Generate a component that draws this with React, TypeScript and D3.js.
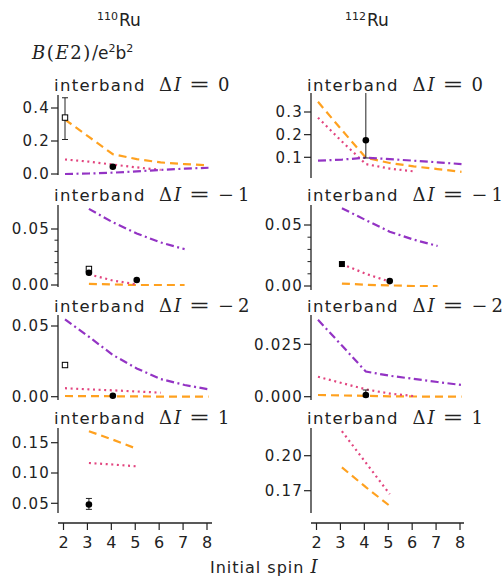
import React from 'react';
import * as d3 from 'd3';

// spins used by the model curves
const spin2to8 = [2, 3, 4, 5, 6, 7, 8];
const spin2to6 = [2, 3, 4, 5, 6];
const spin3to7 = [3, 4, 5, 6, 7];
const spin3to5 = [3, 4, 5];
const xTicks = [2, 3, 4, 5, 6, 7, 8];

// 110Ru
const ru110_d0_dashed = [0.33, 0.225, 0.12, 0.09, 0.07, 0.06, 0.053];
const ru110_d0_dotted = [0.088, 0.075, 0.057, 0.04, 0.025];
const ru110_d0_dashdot = [0.0, 0.003, 0.008, 0.016, 0.025, 0.032, 0.038];
const ru110_dm1_dashed = [0.001, 0.0005, 0.0, 0.0, 0.0];
const ru110_dm1_dotted = [0.0095, 0.004, 0.0005];
const ru110_dm1_dashdot = [0.068, 0.056, 0.046, 0.038, 0.032];
const ru110_dm2_dashed = [0.0005, 0.0004, 0.0003, 0.0002, 0.0001, 0.0, 0.0];
const ru110_dm2_dotted = [0.006, 0.0052, 0.0045, 0.0037, 0.0028];
const ru110_dm2_dashdot = [0.0547, 0.0424, 0.0295, 0.02, 0.0125, 0.0083, 0.0052];
const ru110_d1_dashed = [0.169, 0.155, 0.14];
const ru110_d1_dotted = [0.1165, 0.114, 0.111];

// 112Ru
const ru112_d0_dashed = [0.345, 0.22, 0.098, 0.075, 0.06, 0.048, 0.036];
const ru112_d0_dotted = [0.275, 0.17, 0.07, 0.05, 0.038];
const ru112_d0_dashdot = [0.085, 0.09, 0.098, 0.092, 0.085, 0.078, 0.07];
const ru112_dm1_dashed = [0.002, 0.001, 0.0005, 0.0, 0.0];
const ru112_dm1_dotted = [0.018, 0.01, 0.0035];
const ru112_dm1_dashdot = [0.0637, 0.054, 0.0445, 0.038, 0.0328];
const ru112_dm2_dashed = [0.0008, 0.0006, 0.0004, 0.0002, 0.0001, 0.0, 0.0];
const ru112_dm2_dotted = [0.0095, 0.0065, 0.0035, 0.0015, 0.0003];
const ru112_dm2_dashdot = [0.0367, 0.0244, 0.012, 0.01, 0.0085, 0.007, 0.0056];
const ru112_d1_dashed = [0.19, 0.173, 0.157];
const ru112_d1_dotted = [0.221, 0.194, 0.167];

// experimental points: spin, value, error low/high, marker
type Exp = { I: number; v: number; lo?: number; hi?: number; m: 'open' | 'square' | 'circle' };
const ru110_d0_exp: Exp[] = [{ I: 2, v: 0.342, lo: 0.209, hi: 0.462, m: 'open' }, { I: 4, v: 0.044, m: 'circle' }];
const ru110_dm1_exp: Exp[] = [{ I: 3, v: 0.0143, m: 'open' }, { I: 3, v: 0.011, m: 'circle' }, { I: 5, v: 0.0045, m: 'circle' }];
const ru110_dm2_exp: Exp[] = [{ I: 2, v: 0.0224, m: 'open' }, { I: 4, v: 0.0007, m: 'circle' }];
const ru110_d1_exp: Exp[] = [{ I: 3, v: 0.048, lo: 0.04, hi: 0.058, m: 'circle' }];
const ru112_d0_exp: Exp[] = [{ I: 4, v: 0.175, lo: 0.097, hi: 0.45, m: 'circle' }];
const ru112_dm1_exp: Exp[] = [{ I: 3, v: 0.018, m: 'square' }, { I: 5, v: 0.004, m: 'circle' }];
const ru112_dm2_exp: Exp[] = [{ I: 4, v: 0.0008, lo: 0.0, hi: 0.0032, m: 'circle' }];
const ru112_d1_exp: Exp[] = [];

const yTicksD0_110 = [0, 0.2, 0.4];
const yTicksD0_112 = [0.1, 0.2, 0.3];
const yTicksDm1 = [0, 0.05];
const yMinorDm1 = [0.01, 0.02, 0.03, 0.04];
const yTicksDm2_110 = [0, 0.05];
const yTicksDm2_112 = [0, 0.025];
const yTicksD1_110 = [0.05, 0.1, 0.15];
const yTicksD1_112 = [0.17, 0.2];

const SANS = '"DejaVu Sans", sans-serif';
const SERIF = '"DejaVu Serif", serif';
const colors = { dashed: '#ffa11f', dotted: '#e2457f', dashdot: '#9333c4' };
const dashes = { dashed: '8,5', dotted: '2,3.6', dashdot: '8,3.5,2,3.5' };

type Series = { kind: 'dashed' | 'dotted' | 'dashdot'; I: number[]; v: number[] };
type PanelCfg = {
  col: 0 | 1;
  top: number;
  bottom: number;
  cal: [number, number, number, number]; // value0, px0, value1, px1
  ticks: number[];
  fmt: string;
  minor?: number[];
  series: Series[];
  exp: Exp[];
};

const cols = [
  { spineX: 58, spineEnd: 212, x2: 65, x8: 208.5 },
  { spineX: 311, spineEnd: 464, x2: 318, x8: 461.5 },
];

const panels: PanelCfg[] = [
  { col: 0, top: 95, bottom: 175, cal: [0, 174, 0.4, 108], ticks: yTicksD0_110, fmt: '.1f', exp: ru110_d0_exp,
    series: [{ kind: 'dashed', I: spin2to8, v: ru110_d0_dashed }, { kind: 'dotted', I: spin2to6, v: ru110_d0_dotted }, { kind: 'dashdot', I: spin2to8, v: ru110_d0_dashdot }] },
  { col: 1, top: 93, bottom: 178, cal: [0.1, 157.3, 0.3, 112], ticks: yTicksD0_112, fmt: '.1f', exp: ru112_d0_exp,
    series: [{ kind: 'dashed', I: spin2to8, v: ru112_d0_dashed }, { kind: 'dotted', I: spin2to6, v: ru112_d0_dotted }, { kind: 'dashdot', I: spin2to8, v: ru112_d0_dashdot }] },
  { col: 0, top: 205, bottom: 287, cal: [0, 285, 0.05, 229], ticks: yTicksDm1, minor: yMinorDm1, fmt: '.2f', exp: ru110_dm1_exp,
    series: [{ kind: 'dashed', I: spin3to7, v: ru110_dm1_dashed }, { kind: 'dotted', I: spin3to5, v: ru110_dm1_dotted }, { kind: 'dashdot', I: spin3to7, v: ru110_dm1_dashdot }] },
  { col: 1, top: 205, bottom: 290, cal: [0, 286, 0.05, 225], ticks: yTicksDm1, minor: yMinorDm1, fmt: '.2f', exp: ru112_dm1_exp,
    series: [{ kind: 'dashed', I: spin3to7, v: ru112_dm1_dashed }, { kind: 'dotted', I: spin3to5, v: ru112_dm1_dotted }, { kind: 'dashdot', I: spin3to7, v: ru112_dm1_dashdot }] },
  { col: 0, top: 315, bottom: 400, cal: [0, 396.7, 0.05, 326], ticks: yTicksDm2_110, fmt: '.2f', exp: ru110_dm2_exp,
    series: [{ kind: 'dashed', I: spin2to8, v: ru110_dm2_dashed }, { kind: 'dotted', I: spin2to6, v: ru110_dm2_dotted }, { kind: 'dashdot', I: spin2to8, v: ru110_dm2_dashdot }] },
  { col: 1, top: 315, bottom: 400, cal: [0, 396.7, 0.025, 344.3], ticks: yTicksDm2_112, fmt: '.3f', exp: ru112_dm2_exp,
    series: [{ kind: 'dashed', I: spin2to8, v: ru112_dm2_dashed }, { kind: 'dotted', I: spin2to6, v: ru112_dm2_dotted }, { kind: 'dashdot', I: spin2to8, v: ru112_dm2_dashdot }] },
  { col: 0, top: 428, bottom: 513, cal: [0.05, 503.3, 0.15, 442.7], ticks: yTicksD1_110, fmt: '.2f', exp: ru110_d1_exp,
    series: [{ kind: 'dashed', I: spin3to5, v: ru110_d1_dashed }, { kind: 'dotted', I: spin3to5, v: ru110_d1_dotted }] },
  { col: 1, top: 428, bottom: 513, cal: [0.17, 490.7, 0.2, 455.7], ticks: yTicksD1_112, fmt: '.2f', exp: ru112_d1_exp,
    series: [{ kind: 'dashed', I: spin3to5, v: ru112_d1_dashed }, { kind: 'dotted', I: spin3to5, v: ru112_d1_dotted }] },
];

const rowTitles = [
  { base: 91, val: '0' },
  { base: 201, val: '−1' },
  { base: 311.5, val: '−2' },
  { base: 423.5, val: '1' },
];
const titleX = [{ word: 54, math: 159 }, { word: 307, math: 412.5 }];

const xAxisY = 523;

const Panel = ({ p, idx }: { p: PanelCfg; idx: number }) => {
  const c = cols[p.col];
  const x = d3.scaleLinear().domain([2, 8]).range([c.x2, c.x8]);
  const y = d3.scaleLinear().domain([p.cal[0], p.cal[2]]).range([p.cal[1], p.cal[3]]);
  const fmt = d3.format(p.fmt);
  const line = d3.line<[number, number]>().x(d => x(d[0])).y(d => y(d[1]));
  const clipId = `clip-${idx}`;
  return (
    <g>
      <clipPath id={clipId}>
        <rect x={c.spineX - 10} y={p.top} width={c.spineEnd - c.spineX + 20} height={p.bottom - p.top} />
      </clipPath>
      <line x1={c.spineX} x2={c.spineX} y1={p.top} y2={p.bottom} stroke="#222" strokeWidth={1.3} />
      {p.ticks.map(t => (
        <g key={t}>
          <line x1={c.spineX - 7} x2={c.spineX} y1={y(t)} y2={y(t)} stroke="#222" strokeWidth={1.2} />
          <text x={c.spineX - 8} y={y(t) + 5.4} textAnchor="end" fontFamily={SANS} fontSize={15} letterSpacing={1.2} fill="#222">{fmt(t)}</text>
        </g>
      ))}
      {(p.minor || []).map(t => (
        <line key={`m${t}`} x1={c.spineX - 3.5} x2={c.spineX} y1={y(t)} y2={y(t)} stroke="#222" strokeWidth={1} />
      ))}
      <g clipPath={`url(#${clipId})`}>
        {p.series.map((s, i) => (
          <path key={i} d={line(s.I.map((I, j) => [I, s.v[j]] as [number, number])) || ''} fill="none"
            stroke={colors[s.kind]} strokeWidth={2.2} strokeDasharray={dashes[s.kind]} />
        ))}
        {p.exp.map((e, i) => (
          <g key={`e${i}`}>
            {e.lo !== undefined && e.hi !== undefined && (
              <g stroke="#222" strokeWidth={1}>
                <line x1={x(e.I)} x2={x(e.I)} y1={y(e.lo)} y2={y(e.hi)} />
                <line x1={x(e.I) - 3} x2={x(e.I) + 3} y1={y(e.lo)} y2={y(e.lo)} />
                <line x1={x(e.I) - 3} x2={x(e.I) + 3} y1={y(e.hi)} y2={y(e.hi)} />
              </g>
            )}
            {e.m === 'circle' && <circle cx={x(e.I)} cy={y(e.v)} r={3.3} fill="#000" />}
            {e.m === 'square' && <rect x={x(e.I) - 3} y={y(e.v) - 3} width={6} height={6} fill="#000" />}
            {e.m === 'open' && <rect x={x(e.I) - 2.7} y={y(e.v) - 2.7} width={5.4} height={5.4} fill="#fff" stroke="#000" strokeWidth={1} />}
          </g>
        ))}
      </g>
    </g>
  );
};

const XAxis = ({ col }: { col: 0 | 1 }) => {
  const c = cols[col];
  const x = d3.scaleLinear().domain([2, 8]).range([c.x2, c.x8]);
  return (
    <g>
      <line x1={c.spineX} x2={c.spineEnd} y1={xAxisY} y2={xAxisY} stroke="#222" strokeWidth={1.3} />
      {xTicks.map(t => (
        <g key={t}>
          <line x1={x(t) - 1.5} x2={x(t) - 1.5} y1={xAxisY} y2={xAxisY + 7} stroke="#222" strokeWidth={1.2} />
          <text x={x(t) - 1.5} y={xAxisY + 25} textAnchor="middle" fontFamily={SANS} fontSize={16} fill="#222">{t}</text>
        </g>
      ))}
    </g>
  );
};

const RowTitle = ({ col, base, val }: { col: number; base: number; val: string }) => {
  const t = titleX[col];
  const neg = val.startsWith('−');
  return (
    <g fill="#222">
      <text x={t.word} y={base} fontFamily={SANS} fontSize={16.5} letterSpacing={1.3}>interband</text>
      <text x={t.math} y={base} fontFamily={SERIF} fontSize={18}>Δ</text>
      <text x={t.math + 15} y={base} fontFamily={SERIF} fontSize={18} fontStyle="italic">I</text>
      <text x={t.math + 30} y={base} fontFamily={SERIF} fontSize={18} textLength={21} lengthAdjust="spacingAndGlyphs">=</text>
      {neg ? (
        <>
          <text x={t.math + 59} y={base} fontFamily={SERIF} fontSize={18} textLength={16} lengthAdjust="spacingAndGlyphs">−</text>
          <text x={t.math + 79} y={base} fontFamily={SERIF} fontSize={18}>{val.slice(1)}</text>
        </>
      ) : (
        <text x={t.math + 59} y={base} fontFamily={SERIF} fontSize={18}>{val}</text>
      )}
    </g>
  );
};

export default function App() {
  return (
    <div style={{ position: 'absolute', left: 0, top: 0 }}>
      <svg width={502} height={577} style={{ display: 'block' }}>
        <rect width={502} height={577} fill="#fff" />
        {/* column headers */}
        <text fill="#222">
          <tspan x={97} y={20} fontFamily={SANS} fontSize={11}>110</tspan>
          <tspan x={119} y={26} fontFamily={SANS} fontSize={17}>Ru</tspan>
        </text>
        <text fill="#222">
          <tspan x={345} y={20} fontFamily={SANS} fontSize={11}>112</tspan>
          <tspan x={367} y={26} fontFamily={SANS} fontSize={17}>Ru</tspan>
        </text>
        {/* y label */}
        <text y={59} fill="#222">
          <tspan x={32} fontFamily={SERIF} fontSize={18} fontStyle="italic" letterSpacing={1.6}>B</tspan>
          <tspan fontFamily={SERIF} fontSize={18} letterSpacing={1.6}>(</tspan>
          <tspan fontFamily={SERIF} fontSize={18} fontStyle="italic" letterSpacing={1.6}>E</tspan>
          <tspan fontFamily={SERIF} fontSize={18} letterSpacing={1.6}>2)/</tspan>
          <tspan x={98} fontFamily={SANS} fontSize={17}>e</tspan>
          <tspan dy={-7} fontFamily={SANS} fontSize={11}>2</tspan>
          <tspan dy={7} fontFamily={SANS} fontSize={17}>b</tspan>
          <tspan dy={-7} fontFamily={SANS} fontSize={11}>2</tspan>
        </text>
        {rowTitles.map((r, i) => (
          <g key={i}>
            <RowTitle col={0} base={r.base} val={r.val} />
            <RowTitle col={1} base={r.base} val={r.val} />
          </g>
        ))}
        {panels.map((p, i) => <Panel key={i} p={p} idx={i} />)}
        <XAxis col={0} />
        <XAxis col={1} />
        <text y={573} fill="#222">
          <tspan x={210} fontFamily={SANS} fontSize={16} letterSpacing={1}>Initial spin </tspan>
          <tspan fontFamily={SERIF} fontSize={18} fontStyle="italic">I</tspan>
        </text>
      </svg>
    </div>
  );
}
